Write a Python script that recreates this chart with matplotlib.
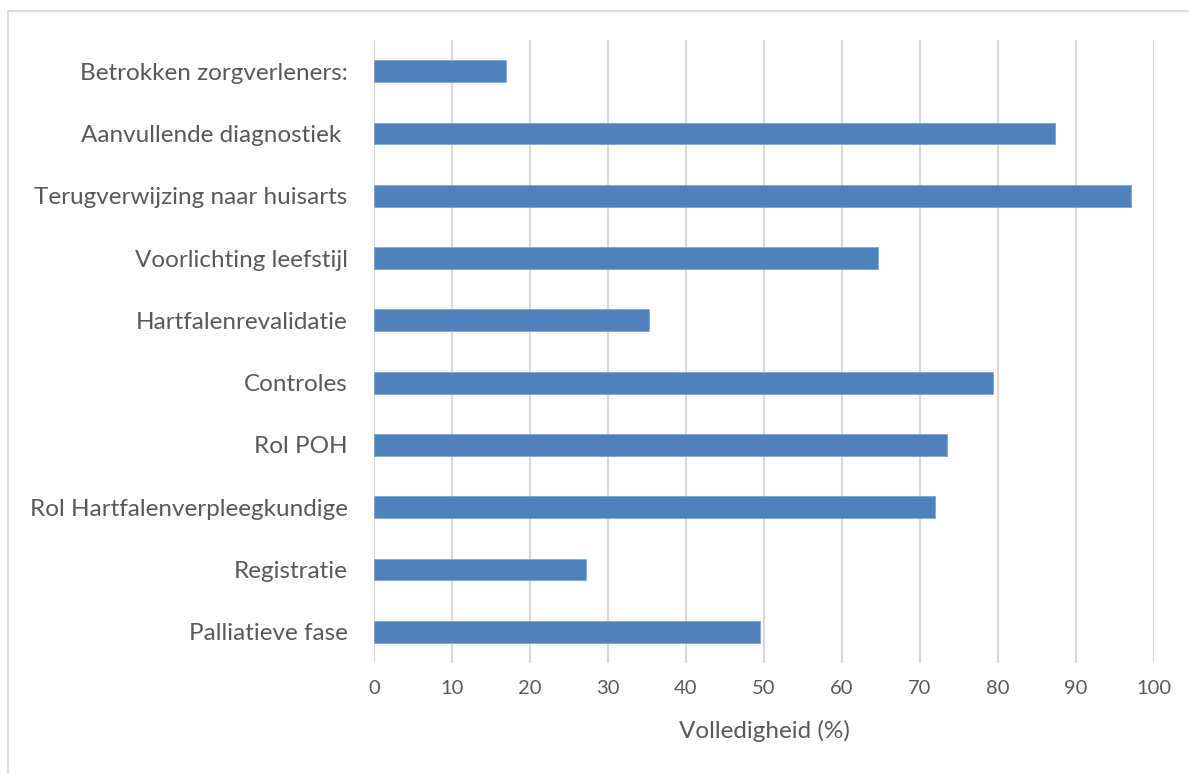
import matplotlib.pyplot as plt
from matplotlib.patches import Rectangle

# categories listed top to bottom as in the chart
categories = [
    "Betrokken zorgverleners:",
    "Aanvullende diagnostiek ",
    "Terugverwijzing naar huisarts",
    "Voorlichting leefstijl",
    "Hartfalenrevalidatie",
    "Controles",
    "Rol POH",
    "Rol Hartfalenverpleegkundige",
    "Registratie",
    "Palliatieve fase",
]
values = [16.9, 87.3, 97.1, 64.6, 35.3, 79.3, 73.5, 71.9, 27.2, 49.5]
xticks = list(range(0, 101, 10))

plt.rcParams['font.family'] = ['Lato', 'DejaVu Sans']
text_color = "#595959"

fig = plt.figure(figsize=(11.89, 7.74), dpi=100)
ax = fig.add_axes([374 / 1189, 1 - 663 / 774, 780 / 1189, 623 / 774])

# outer chart border (only top and left fall inside the image)
fig.patches.append(Rectangle((8 / 1189, -0.1), 1.2, 1 - 11 / 774 + 0.1,
                             transform=fig.transFigure, fill=False,
                             edgecolor="#d9d9d9", linewidth=1.2))

ypos = list(range(len(categories)))[::-1]
ax.barh(ypos, values, height=0.35, color="#4f81bd", edgecolor="#7ea6d6",
        linewidth=0.6, zorder=3)

ax.set_xlim(0, 100)
ax.set_ylim(-0.5, len(categories) - 0.5)
ax.set_xticks(xticks)
ax.set_yticks(ypos)
ax.set_yticklabels(categories)
ax.grid(axis="x", color="#d9d9d9", linewidth=1.5, zorder=0)
ax.tick_params(length=0, colors=text_color)
ax.tick_params(axis="x", labelsize=14.5, pad=12)
ax.tick_params(axis="y", labelsize=17.5, pad=19)
for s in ax.spines.values():
    s.set_visible(False)
ax.set_xlabel("Volledigheid (%)", fontsize=17.5, color=text_color, labelpad=17)

fig.savefig("out.png", dpi=100)
